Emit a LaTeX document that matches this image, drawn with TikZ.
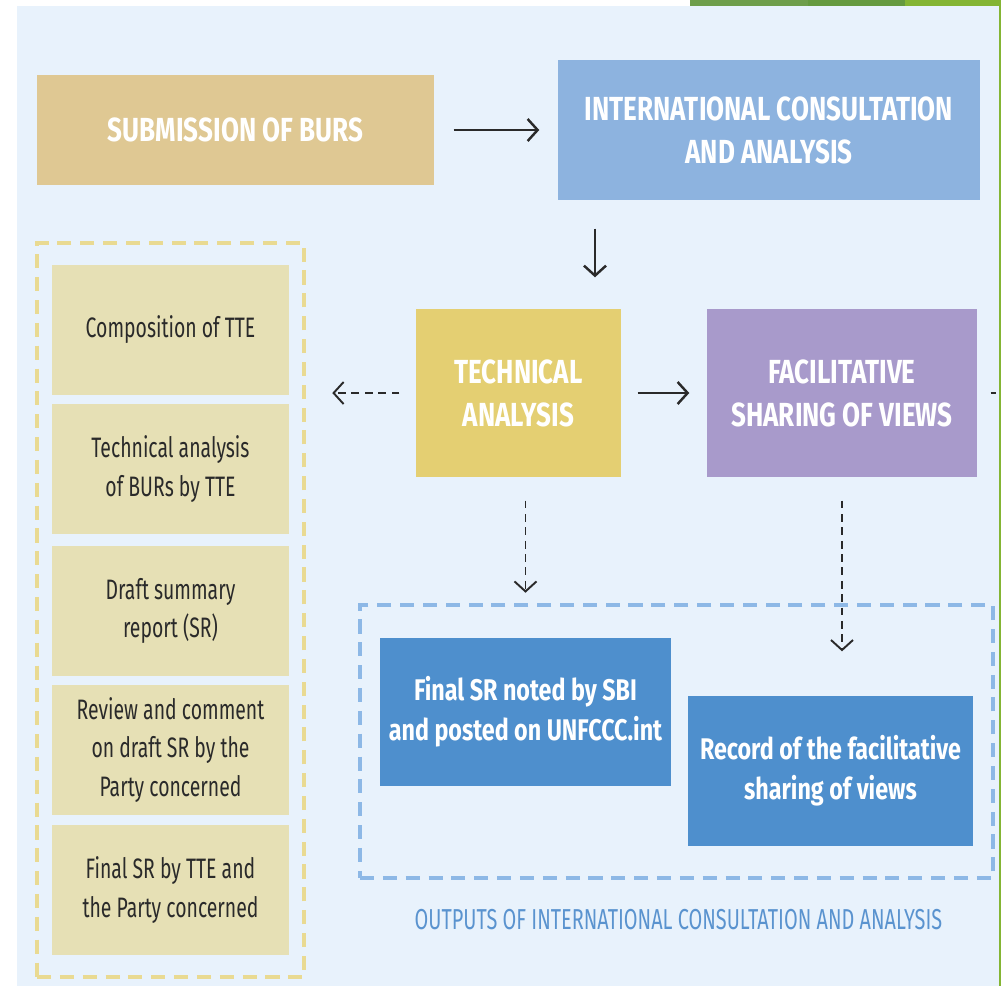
\documentclass[tikz,border=0pt]{standalone}
\usepackage{fontspec}
\setmainfont{Fira Sans}[FakeStretch=0.78]
\newfontfamily\bodyfont{Fira Sans}[FakeStretch=0.69]
\usetikzlibrary{arrows.meta}
\definecolor{panel}{HTML}{E8F2FC}
\definecolor{burfill}{HTML}{DFC893}
\definecolor{icafill}{HTML}{8DB3DF}
\definecolor{tafill}{HTML}{E4CF72}
\definecolor{fsvfill}{HTML}{A89ACB}
\definecolor{taskfill}{HTML}{E6E0B5}
\definecolor{taskline}{HTML}{E9DA92}
\definecolor{outline}{HTML}{8DB8E6}
\definecolor{outfill}{HTML}{4E8FCD}
\definecolor{outtext}{HTML}{5A93CF}
\definecolor{ink}{HTML}{2A2A2A}
\definecolor{leafA}{HTML}{6E9E4B}
\definecolor{leafB}{HTML}{659A3F}
\definecolor{leafC}{HTML}{84B534}

\begin{document}
\begin{tikzpicture}[
  >={Straight Barb[length=1mm,width=2.2mm]},
  head/.style={fill=#1, text=white, align=center, inner sep=0pt,
    font=\fontsize{9.5}{12.2}\selectfont\bfseries},
  task/.style={fill=taskfill, text=ink, align=center, inner sep=0pt,
    minimum width=2.37cm, minimum height=1.30cm,
    font=\bodyfont\fontsize{8}{11}\selectfont},
  result/.style={fill=outfill, text=white, align=center, inner sep=0pt,
    font=\fontsize{8.5}{11.4}\selectfont\bfseries},
  frame/.style={draw=#1, line width=1.3pt, dash pattern=on 4pt off 2.5pt, inner sep=0pt},
  link/.style={->, draw=ink, line width=0.7pt},
  dlink/.style={link, line width=0.55pt, dash pattern=on 2.2pt off 1.6pt}]
\useasboundingbox (0,0) rectangle (10.01,-9.86);
\fill[white] (0,0) rectangle (10.01,-9.86); %page
\fill[panel] (0.17,-0.06) rectangle (10.01,-9.86); %panel
\fill[leafA] (6.90,0) rectangle (8.08,-0.06); %top band
\fill[leafB] (8.08,0) rectangle (9.05,-0.06);
\fill[leafC] (9.05,0) rectangle (10.01,-0.06);
\fill[leafC] (9.985,-0.06) rectangle (10.01,-9.86); %right edge

% top row
\node[head=burfill, minimum width=3.97cm, minimum height=1.10cm] (bur) at (2.355,-1.30) {SUBMISSION OF BURS};
\node[head=icafill, minimum width=4.22cm, minimum height=1.40cm] (ica) at (7.69,-1.30) {INTERNATIONAL CONSULTATION\\AND ANALYSIS};

% middle row
\node[head=tafill, minimum width=2.05cm, minimum height=1.68cm] (ta) at (5.185,-3.93) {TECHNICAL\\ANALYSIS};
\node[head=fsvfill, minimum width=2.70cm, minimum height=1.68cm] (fsv) at (8.42,-3.93) {FACILITATIVE\\SHARING OF VIEWS};

% steps of the technical analysis
\node[frame=taskline, minimum width=2.67cm, minimum height=7.34cm] (steps) at (1.705,-6.10) {};
\node[task] (s1) at (1.705,-3.30) {Composition of TTE};
\node[task] (s2) at (1.705,-4.69) {Technical analysis\\of BURs by TTE};
\node[task] (s3) at (1.705,-6.11) {Draft summary\\report (SR)};
\node[task] (s4) at (1.705,-7.50) {Review and comment\\on draft SR by the\\Party concerned};
\node[task] (s5) at (1.705,-8.90) {Final SR by TTE and\\the Party concerned};

% outputs
\node[frame=outline, minimum width=6.33cm, minimum height=2.73cm] (outs) at (6.765,-7.415) {};
\node[result, minimum width=2.91cm, minimum height=1.48cm] (fsr) at (5.255,-7.12) {Final SR noted by SBI\\and posted on UNFCCC.int};
\node[result, minimum width=2.85cm, minimum height=1.50cm] (rec) at (8.305,-7.71) {Record of the facilitative\\sharing of views};
\node[text=outtext, font=\bodyfont\fontsize{8.2}{10}\selectfont] (outlabel) at (6.785,-9.20) {OUTPUTS OF INTERNATIONAL CONSULTATION AND ANALYSIS};

% arrows
\coordinate (dn) at (5.95,-2.5);
\coordinate (cut) at (9.96,-3.93);
\draw[link, shorten <=0.19cm, shorten >=0.18cm] (bur) -- (ica);
\draw[link, shorten <=0.28cm, shorten >=0.31cm] (ica.south -| dn) -- (ta.north -| dn);
\draw[dlink, shorten <=0.16cm, shorten >=0.26cm] (ta.west) -- (steps.east |- ta.west);
\draw[link, shorten <=0.16cm, shorten >=0.17cm] (ta) -- (fsv);
\draw[ink, line width=0.7pt, shorten <=0.13cm] (fsv.east) -- (cut); %cut off
\draw[dlink, shorten <=0.23cm, shorten >=0.10cm] (ta.south -| fsr.north) -- (outs.north -| fsr.north);
\draw[dlink, shorten <=0.23cm, shorten >=0.44cm] (fsv.south) -- (rec.north -| fsv.south);
\end{tikzpicture}
\end{document}
